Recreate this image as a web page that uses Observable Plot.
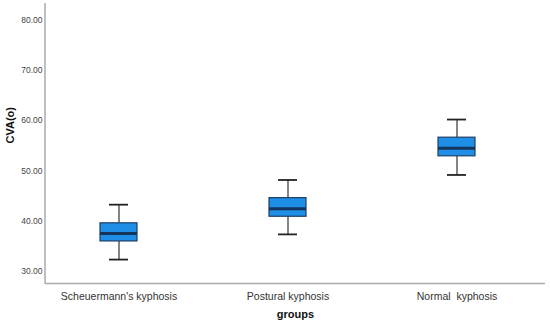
<!DOCTYPE html>
<html>
<head>
<meta charset="utf-8">
<script src="https://cdn.jsdelivr.net/npm/d3@7"></script>
<script src="https://cdn.jsdelivr.net/npm/@observablehq/plot@0.6"></script>
<style>
  html, body { margin: 0; padding: 0; background: #fff; }
  #chart svg { font-family: "Liberation Sans", Arial, sans-serif; }
</style>
</head>
<body>
<div id="chart"></div>
<script>
const groups = ["Scheuermann's kyphosis", "Postural kyphosis", "Normal  kyphosis"];
const whiskerLow = [32.4, 37.4, 49.2];
const q1 = [36.0, 40.9, 52.9];
const median = [37.6, 42.5, 54.5];
const q3 = [39.6, 44.6, 56.6];
const whiskerHigh = [43.3, 48.2, 60.2];
const yTicks = [30, 40, 50, 60, 70, 80];

const data = groups.map((g, i) => ({
  group: g, low: whiskerLow[i], q1: q1[i], median: median[i], q3: q3[i], high: whiskerHigh[i]
}));

const W = 550, H = 325, mL = 45, mR = 5, mT = 3, mB = 42;
const boxInset = 66, capInset = 75;

const plot = Plot.plot({
  width: W,
  height: H,
  marginLeft: mL,
  marginRight: mR,
  marginTop: mT,
  marginBottom: mB,
  style: { fontFamily: "Liberation Sans, Arial, sans-serif", background: "#fff" },
  x: { type: "band", domain: groups, range: [33, 541], padding: 0 },
  y: { domain: [27.65, 83.24] },
  marks: [
    Plot.axisY({ ticks: yTicks, tickFormat: d => d.toFixed(2), tickSize: 0, tickPadding: 3, fontSize: 8.5, fill: "#444", label: null }),
    Plot.axisX({ tickSize: 0, tickPadding: 9, fontSize: 10.5, fill: "#333", label: null }),
    Plot.ruleY([27.65], { stroke: "#aaa", strokeWidth: 1.5 }),
    Plot.ruleX(data, { x: "group", y1: "low", y2: "q1", stroke: "#333", strokeWidth: 1.2 }),
    Plot.ruleX(data, { x: "group", y1: "q3", y2: "high", stroke: "#333", strokeWidth: 1.2 }),
    Plot.tickY(data, { x: "group", y: "low", stroke: "#222", strokeWidth: 1.8, insetLeft: capInset, insetRight: capInset }),
    Plot.tickY(data, { x: "group", y: "high", stroke: "#222", strokeWidth: 1.8, insetLeft: capInset, insetRight: capInset }),
    Plot.barY(data, { x: "group", y1: "q1", y2: "q3", fill: "#1e8ee6", stroke: "#1d3f66", strokeWidth: 1.2, insetLeft: boxInset, insetRight: boxInset }),
    Plot.tickY(data, { x: "group", y: "median", stroke: "#13355c", strokeWidth: 3, insetLeft: boxInset, insetRight: boxInset }),
    Plot.text(["CVA(o)"], { frameAnchor: "left", rotate: -90, dx: -35, fontWeight: "bold", fontSize: 11, fill: "#111" }),
    Plot.text(["groups"], { frameAnchor: "bottom", dy: 34, fontWeight: "bold", fontSize: 11, fill: "#111" })
  ]
});

d3.select(plot).append("line")
  .attr("x1", mL).attr("x2", mL)
  .attr("y1", mT).attr("y2", H - mB + 0.75)
  .attr("stroke", "#aaa").attr("stroke-width", 1.5);

document.getElementById("chart").appendChild(plot);
</script>
</body>
</html>
